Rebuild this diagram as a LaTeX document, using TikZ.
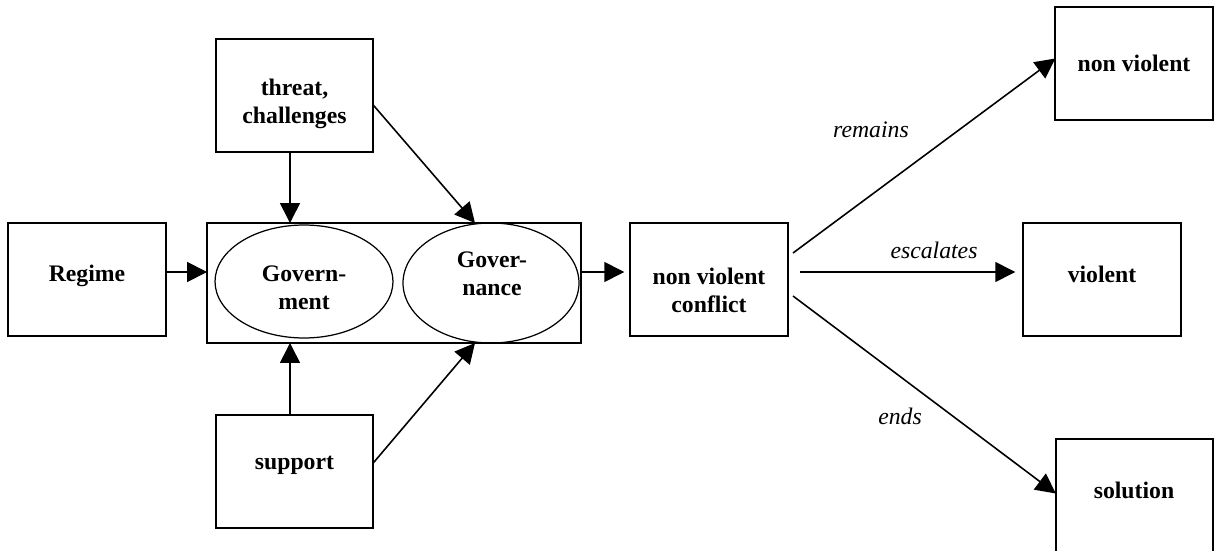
\documentclass[tikz,border=0pt]{standalone}
\usepackage{fontspec}
\setmainfont{Liberation Serif}
\usepackage{tikz}
\usetikzlibrary{calc,positioning,shapes.geometric,arrows.meta}

\begin{document}
\begin{tikzpicture}[x=0.02cm, y=-0.02cm,
    every node/.style={outer sep=0pt, inner sep=0pt},
    box/.style={draw, line width=1.1pt, minimum width=3.15cm, minimum height=2.26cm},
    oval/.style={draw, ellipse, line width=0.7pt},
    txt/.style={font=\fontsize{13.5}{16}\selectfont\bfseries, align=center},
    lbl/.style={font=\fontsize{13.5}{16}\selectfont\itshape},
    arr/.style={line width=0.9pt, -{Triangle[length=0.4cm,width=0.4cm]}}]

    \useasboundingbox (0,0) rectangle (1221,551);

    % boxes
    \node[box] (reg) at (87,279.5) {};
    \node[box] (thr) at (294.5,95.5) {};
    \node[box] (sup) at (294.5,471.5) {};
    \node[box] (nvc) at (709,279.5) {};
    \node[box] (nv) at (1134,63.5) {};
    \node[box] (vio) at (1102,279.5) {};
    \node[box] (sol) at (1134.5,495.5) {};
    \node[draw, line width=0.9pt, minimum width=7.48cm, minimum height=2.4cm] (big) at (394,283) {};
    \node[oval, minimum width=3.56cm, minimum height=2.26cm] (gov) at (304,281.5) {};
    \node[oval, minimum width=3.52cm, minimum height=2.4cm] (gce) at (491,283) {};

    % texts
    \node[txt] (regt) at (87,276) {Regime};
    \node[txt] (thrt) at (294.5,104) {threat,\\challenges};
    \node[txt] (supt) at (294.5,465) {support};
    \node[txt] (govt) at (304,288) {Govern-\\ment};
    \node[txt] (gcet) at (492,274) {Gover-\\nance};
    \node[txt] (nvct) at (709,290) {non violent\\conflict};
    \node[txt] (nvt) at (1134,63) {non violent};
    \node[txt] (viot) at (1102,274) {violent};
    \node[txt] (solt) at (1134,490) {solution};
    \node[lbl] (remt) at (871,130) {remains};
    \node[lbl] (esct) at (934,250) {escalates};
    \node[lbl] (fint) at (900,416) {ends};

    \coordinate (lvl) at (0,272);
    \coordinate (colA) at (290,0);
    \coordinate (colB) at (475,0);
    \coordinate (rem) at (793,253);
    \coordinate (esc) at (800,272);
    \coordinate (fin) at (793,296);

    % into the government box
    \draw[arr] (reg.east |- lvl) -- (big.west |- lvl);
    \draw[arr] (thr.south -| colA) -- (big.north -| colA);
    \draw[arr] ($(thr.east)+(0,9.5)$) -- (big.north -| colB);
    \draw[arr] (sup.north -| colA) -- (big.south -| colA);
    \draw[arr] ($(sup.east)+(0,-8.5)$) -- (big.south -| colB);
    \draw[arr, shorten >=0.12cm] (big.east |- lvl) -- (nvc.west |- lvl);

    % outcomes
    \draw[arr] (rem) -- ($(nv.west)+(0,-5)$);
    \draw[arr, shorten >=0.16cm] (esc) -- (vio.west |- esc);
    \draw[arr] (fin) -- ($(sol.west)+(0,-2)$);
\end{tikzpicture}
\end{document}
